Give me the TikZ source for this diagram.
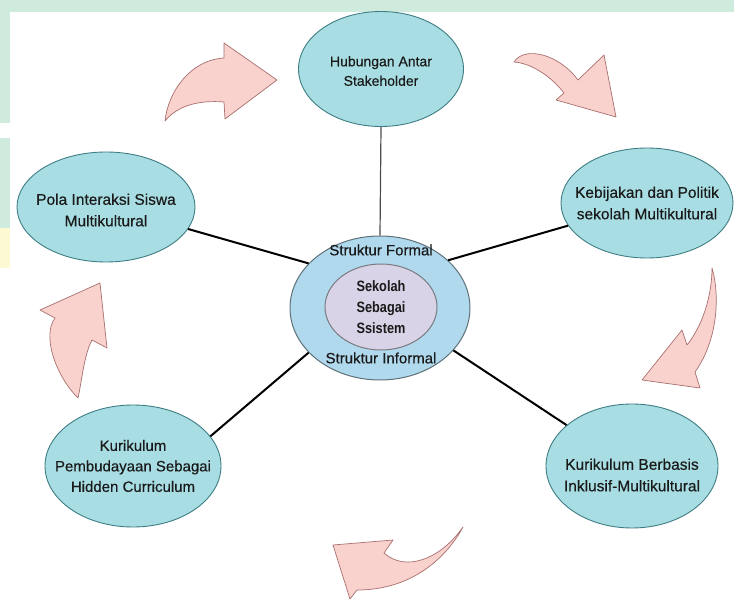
\documentclass[tikz,border=0pt]{standalone}
\usepackage{fontspec}
\setmainfont[FakeBold=0.35]{Liberation Sans}
\newfontfamily\narrowfont[FakeStretch=0.85]{Liberation Sans}
\usetikzlibrary{shapes.geometric}
\definecolor{nodefill}{HTML}{A8DEE3}
\definecolor{nodedraw}{HTML}{3E7E84}
\definecolor{outerfill}{HTML}{B0D9EE}
\definecolor{outerdraw}{HTML}{5E7078}
\definecolor{innerfill}{HTML}{D9D3E7}
\definecolor{innerdraw}{HTML}{7A7A80}
\definecolor{arrowfill}{HTML}{F9D1CD}
\definecolor{arrowdraw}{HTML}{A8706F}
\definecolor{bandgreen}{HTML}{CFEBDD}
\definecolor{bandyellow}{HTML}{FDFAD3}
\definecolor{txt}{HTML}{1A1A1A}
\begin{document}
\begin{tikzpicture}[x=1pt,y=-1pt,
  topic/.style={ellipse, draw=nodedraw, line width=0.9pt, fill=nodefill, inner sep=0pt},
  topictext/.style={inner sep=0pt, align=center, text=txt, font=\fontsize{15.5}{21.5}\selectfont},
  hub/.style={ellipse, inner sep=0pt, line width=1pt},
  lbl/.style={inner sep=0pt, font=\fontsize{15}{20}\selectfont, text=txt},
  link/.style={draw=black, line width=2pt},
  thinlink/.style={draw=black!70, line width=1.2pt},
  curvarrow/.style={fill=arrowfill, draw=arrowdraw, line width=0.7pt, line join=round}]
\useasboundingbox (0,0) rectangle (734,601);
\fill[white] (0,0) rectangle (734,601);
% background bands
\fill[bandgreen] (0,0) rectangle (734,12);
\fill[bandgreen] (0,0) rectangle (10,123);
\fill[bandgreen] (0,138) rectangle (10,228);
\fill[bandyellow] (0,228) rectangle (10,268);

% outer topics
\node[topic, minimum width=165pt, minimum height=115pt,
  label={[topictext, font=\fontsize{14}{19.5}\selectfont, yshift=-2pt]center:Hubungan Antar\\Stakeholder}] (hubungan) at (381,69) {};
\node[topic, minimum width=172pt, minimum height=110pt,
  label={[topictext]center:Kebijakan dan Politik\\sekolah Multikultural}] (kebijakan) at (647,203) {};
\node[topic, minimum width=178pt, minimum height=110pt,
  label={[topictext, yshift=-3pt]center:Pola Interaksi Siswa\\Multikultural}] (pola) at (106,207) {};
\node[topic, minimum width=176pt, minimum height=122pt,
  label={[topictext, font=\fontsize{15}{20.5}\selectfont]center:Kurikulum\\Pembudayaan Sebagai\\Hidden Curriculum}] (hidden) at (133,466) {};
\node[topic, minimum width=172pt, minimum height=124pt,
  label={[topictext, yshift=-9pt]center:Kurikulum Berbasis\\Inklusif-Multikultural}] (inklusif) at (632,466) {};

% centre
\node[hub, draw=outerdraw, fill=outerfill, minimum width=180pt, minimum height=144pt] (outer) at (380,308) {};
\node[hub, draw=innerdraw, fill=innerfill, minimum width=112pt, minimum height=86pt,
  align=center, font=\narrowfont\bfseries\fontsize{15}{21}\selectfont, text=txt] (inner) at (381,307) {Sekolah\\Sebagai\\Ssistem};
\node[lbl] (formal) at (381,250) {Struktur Formal};
\node[lbl] (informal) at (381,358) {Struktur Informal};

% connectors
\draw[thinlink] (hubungan.south) -- (outer.north);
\draw[link] (pola.-15) -- (outer.148);
\draw[link] (kebijakan.196) -- (outer.35);
\draw[link] (hidden.21) -- (outer.212);
\draw[link] (inklusif.148) -- (outer.-30);

% curved arrows
\draw[curvarrow] (165,121) .. controls (168,92) and (190,60) .. (224,58) -- (224,43) -- (277,80)
  -- (225,119) -- (224,102) .. controls (200,100) and (178,105) .. (165,121) -- cycle;
\draw[curvarrow] (514,62) .. controls (525,45) and (560,55) .. (578,80) -- (604,55) -- (616,117)
  -- (556,100) -- (564,93) .. controls (550,75) and (530,63) .. (514,62) -- cycle;
\draw[curvarrow] (712,268) .. controls (720,295) and (718,340) .. (695,372) -- (700,388) -- (642,380)
  -- (682,330) -- (687,345) .. controls (703,325) and (712,295) .. (712,268) -- cycle;
\draw[curvarrow] (463,527) .. controls (440,560) and (405,572) .. (384,553) -- (393,540) -- (333,545)
  -- (350,599) -- (357,590) .. controls (410,590) and (445,560) .. (463,527) -- cycle;
\draw[curvarrow] (78,398) .. controls (55,375) and (42,335) .. (55,318) -- (40,310) -- (100,283)
  -- (107,348) -- (92,340) .. controls (84,355) and (82,380) .. (78,398) -- cycle;
\end{tikzpicture}
\end{document}
